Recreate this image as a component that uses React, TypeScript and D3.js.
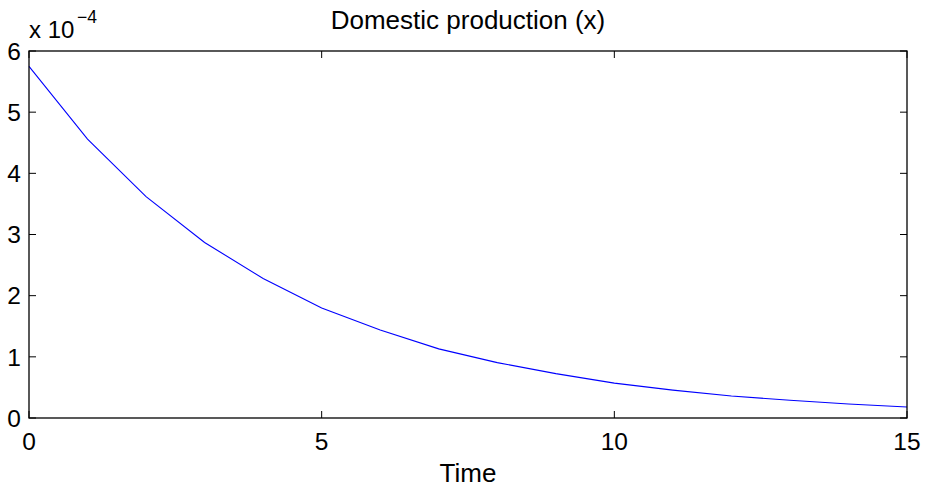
import React from 'react';
import * as d3 from 'd3';

// time steps and the simulated path (units of 1e-4)
const timeSteps = [0, 1, 2, 3, 4, 5, 6, 7, 8, 9, 10, 11, 12, 13, 14, 15];
const production = [5.75, 4.56, 3.62, 2.87, 2.28, 1.8, 1.44, 1.13, 0.905, 0.725, 0.57, 0.455, 0.36, 0.29, 0.23, 0.18];
const xTicks = [0, 5, 10, 15];
const yTicks = [0, 1, 2, 3, 4, 5, 6];

const title = 'Domestic production (x)';
const xLabel = 'Time';

const App = () => {
  const width = 926;
  const height = 491;
  // plot box, fixed to fit the window
  const margin = { top: 51, right: 19, bottom: 73, left: 29 };
  const font = 'Liberation Sans, Arial, Helvetica, sans-serif';
  const tick = 7;

  const x = d3.scaleLinear().domain([0, 15]).range([margin.left, width - margin.right]);
  const y = d3.scaleLinear().domain([0, 6]).range([height - margin.bottom, margin.top]);

  const line = d3
    .line<number>()
    .x((d, i) => x(timeSteps[i]))
    .y((d) => y(d));

  const x0 = x(0);
  const x1 = x(15);
  const y0 = y(0);
  const y1 = y(6);

  return (
    <svg
      width={width}
      height={height}
      style={{ position: 'absolute', left: 0, top: 0, background: '#fff' }}
      fontFamily={font}
    >
      <rect x={0} y={0} width={width} height={height} fill="#fff" />

      {/* data line */}
      <path d={line(production) || ''} fill="none" stroke="#0000ff" strokeWidth={1.1} />

      {/* ticks on all four sides, pointing inward */}
      {xTicks.map((t) => (
        <g key={'xt' + t} stroke="#000" strokeWidth={1}>
          <line x1={x(t)} x2={x(t)} y1={y0} y2={y0 - tick} />
          <line x1={x(t)} x2={x(t)} y1={y1} y2={y1 + tick} />
        </g>
      ))}
      {yTicks.map((t) => (
        <g key={'yt' + t} stroke="#000" strokeWidth={1}>
          <line x1={x0} x2={x0 + tick} y1={y(t)} y2={y(t)} />
          <line x1={x1} x2={x1 - tick} y1={y(t)} y2={y(t)} />
        </g>
      ))}

      {/* box */}
      <rect x={x0} y={y1} width={x1 - x0} height={y0 - y1} fill="none" stroke="#000" strokeWidth={1.3} />

      {/* tick labels */}
      {xTicks.map((t) => (
        <text key={'xl' + t} x={x(t)} y={450} textAnchor="middle" fontSize={24.5} fill="#000">
          {t}
        </text>
      ))}
      {yTicks.map((t) => (
        <text key={'yl' + t} x={21} y={y(t)} dy="0.36em" textAnchor="end" fontSize={24.5} fill="#000">
          {t}
        </text>
      ))}

      {/* exponent */}
      <text x={29} y={38} fontSize={24} fill="#000">
        x 10
      </text>
      <text x={77} y={23} fontSize={17.5} fill="#000">
        −4
      </text>

      <text x={(x0 + x1) / 2} y={29} textAnchor="middle" fontSize={26} fill="#000">
        {title}
      </text>
      <text x={(x0 + x1) / 2} y={482} textAnchor="middle" fontSize={26} fill="#000">
        {xLabel}
      </text>
    </svg>
  );
};

export default App;
